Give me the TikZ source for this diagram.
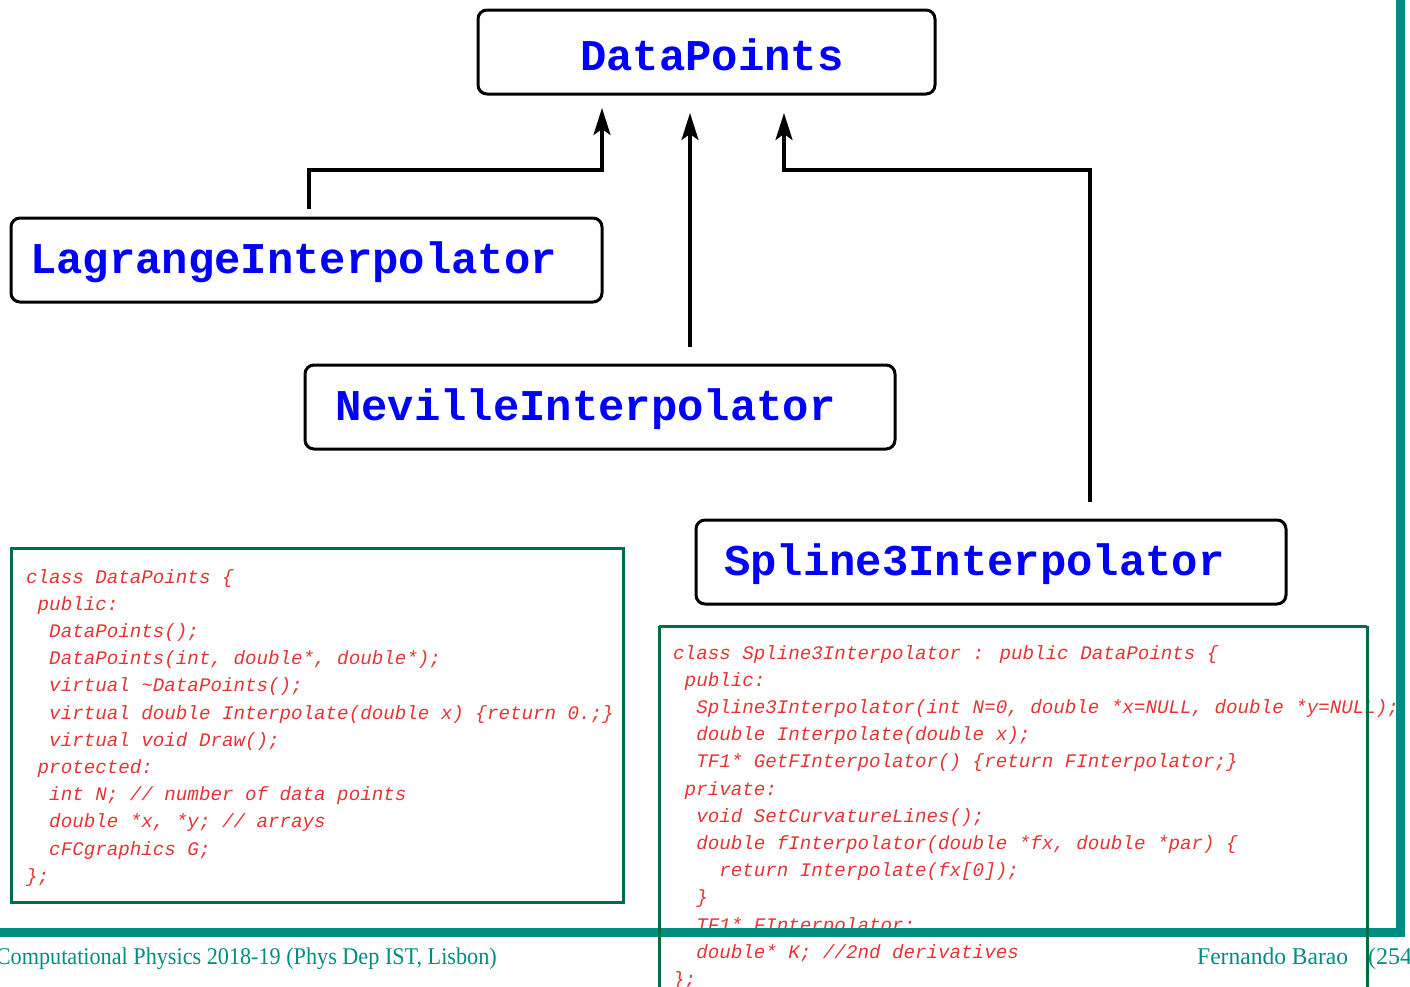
\documentclass[tikz,border=0pt]{standalone}
\usepackage{fontspec}
\usetikzlibrary{arrows.meta}
\newfontfamily\classfont{Liberation Mono}[BoldFont={Liberation Mono Bold}]
\newfontfamily\codefont{Liberation Mono}[ItalicFont={Liberation Mono Italic}]
\newfontfamily\footfont{Liberation Serif}
\definecolor{clsblue}{RGB}{0,0,255}
\definecolor{codered}{RGB}{228,52,52}
\definecolor{boxgreen}{RGB}{0,110,65}
\definecolor{frameteal}{RGB}{0,139,131}
\newcommand{\ind}[1]{\hspace*{#1\dimexpr0.6em\relax}}
\tikzset{
  classbox/.style={draw=black, line width=3pt, rounded corners=9pt, fill=white},
  classtext/.style={anchor=base west, inner sep=0pt, text=clsblue,
    font=\classfont\bfseries\fontsize{43.9}{50}\selectfont},
  codetext/.style={anchor=north west, inner sep=0pt, text=codered, align=left,
    font=\codefont\itshape\fontsize{19.2}{27.2}\selectfont},
  codebox/.style={draw=boxgreen, line width=3pt},
  inherit/.style={draw=black, line width=3.2pt,
    -{Stealth[length=27pt, width=17pt, inset=6pt]}},
  foot/.style={anchor=base west, inner sep=0pt, text=frameteal,
    font=\footfont\fontsize{24}{28}\selectfont},
}
\begin{document}
\begin{tikzpicture}[x=1pt,y=-1pt]
\useasboundingbox (0,0) rectangle (1410,986);
\clip (0,0) rectangle (1410,986);

% class boxes
\draw[classbox] (478,10) rectangle (935,94);
\node[classtext] (dp) at (580,70) {DataPoints};
\coordinate (dpA) at (602,108);
\coordinate (dpB) at (690,113);
\coordinate (dpC) at (784,113);

\draw[classbox] (11,218) rectangle (602,302);
\node[classtext] (lag) at (30,273) {LagrangeInterpolator};
\coordinate (lagT) at (309,209);

\draw[classbox] (305,365) rectangle (895,449);
\node[classtext] (nev) at (335,420) {NevilleInterpolator};
\coordinate (nevT) at (690,347);

\draw[classbox] (696,520) rectangle (1286,604);
\node[classtext] (spl) at (724,575) {Spline3Interpolator};
\coordinate (splT) at (1090,502);

% inheritance arrows
\draw[inherit] (lagT) |- (602,170) -- (dpA);
\draw[inherit] (nevT) -- (dpB);
\draw[inherit] (splT) |- (784,170) -- (dpC);

% code box left
\draw[codebox] (11,548) rectangle (623,902);
\node[codetext] (codeL) at (26,569) {%
class DataPoints \{\\
\ind{1}public:\\
\ind{2}DataPoints();\\
\ind{2}DataPoints(int, double*, double*);\\
\ind{2}virtual \textasciitilde DataPoints();\\
\ind{2}virtual double Interpolate(double x) \{return 0.;\}\\
\ind{2}virtual void Draw();\\
\ind{1}protected:\\
\ind{2}int N; // number of data points\\
\ind{2}double *x, *y; // arrays\\
\ind{2}cFCgraphics G;\\
\};};

% code box right text
\node[codetext] (codeR) at (673,645) {%
class Spline3Interpolator : public DataPoints \{\\
\ind{1}public:\\
\ind{2}Spline3Interpolator(int N=0, double *x=NULL, double *y=NULL);\\
\ind{2}double Interpolate(double x);\\
\ind{2}TF1* GetFInterpolator() \{return FInterpolator;\}\\
\ind{1}private:\\
\ind{2}void SetCurvatureLines();\\
\ind{2}double fInterpolator(double *fx, double *par) \{\\
\ind{4}return Interpolate(fx[0]);\\
\ind{2}\}\\
\ind{2}TF1* FInterpolator;\\
\ind{2}double* K; //2nd derivatives\\
\};};

% slide frame
\fill[frameteal] (1396,0) rectangle (1405,937);
\fill[frameteal] (0,928) rectangle (1405,937);

% code box right border (over frame)
\draw[codebox] (659,626) -- (1367,626);
\draw[codebox] (659,626) -- (659,1000);
\draw[codebox] (1367,626) -- (1367,1000);

% footer
\node[foot, anchor=base east] (ftl) at (497,964) {\scalebox{0.925}[1]{Computational Physics 2018-19 (Phys Dep IST, Lisbon)}};
\node[foot] (ftr) at (1197,964) {\scalebox{0.98}[1]{Fernando Barao}};
\node[foot] (ftp) at (1368,964) {(254)};
\end{tikzpicture}
\end{document}
